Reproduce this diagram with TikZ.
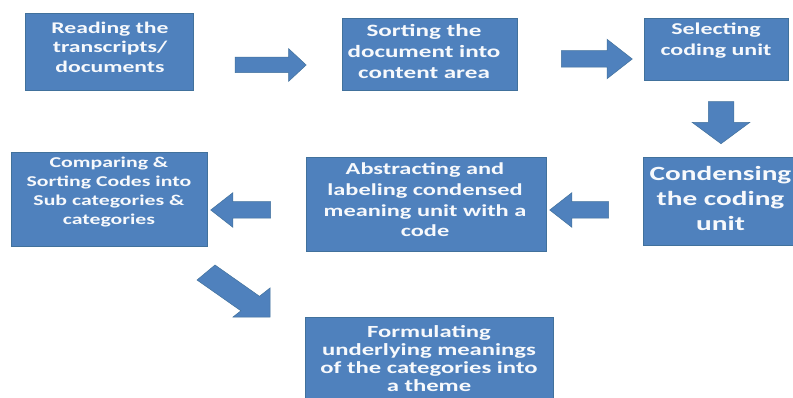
\documentclass[tikz,border=0pt]{standalone}
\usepackage{fontspec}
\usetikzlibrary{shapes.arrows}
\newfontfamily\boxfont[FakeStretch=1.45]{Carlito}
\definecolor{boxblue}{HTML}{4F81BD}
\definecolor{boxedge}{HTML}{41719C}
\definecolor{txtcol}{HTML}{F7F9FC}
\begin{document}
\begin{tikzpicture}[x=1pt,y=-1pt,
  box/.style={draw=boxedge, fill=boxblue, line width=0.5pt, inner sep=0pt},
  txt/.style={text=txtcol, align=center, inner sep=0pt},
  barrow/.style={single arrow, draw=boxedge, fill=boxblue, line width=0.5pt,
     inner xsep=0pt, single arrow head indent=0pt}]
\clip (0,0) rectangle (793,398);
\fill[white] (0,0) rectangle (793,398);
% boxes
\node[box, minimum width=168pt, minimum height=77pt] (b1) at (109,51.5) {};
\node[box, minimum width=175pt, minimum height=72pt] (b2) at (429.5,54) {};
\node[box, minimum width=144pt, minimum height=62pt] (b3) at (716,49) {};
\node[box, minimum width=160pt, minimum height=88pt] (b4) at (723,201) {};
\node[box, minimum width=240pt, minimum height=94pt] (b5) at (426,204) {};
\node[box, minimum width=196pt, minimum height=94pt] (b6) at (109,199) {};
\node[box, minimum width=248pt, minimum height=93pt] (b7) at (429,363.5) {};
% texts
\node[txt, font={\boxfont\bfseries\fontsize{16.3}{19.5}\selectfont}] (t1) at (110,47) {Reading the\\transcripts/\\documents};
\node[txt, font={\boxfont\bfseries\fontsize{17.3}{21}\selectfont}] (t2) at (424,51) {Sorting the\\document into\\content area};
\node[txt, font={\boxfont\bfseries\fontsize{16.5}{21}\selectfont}] (t3) at (716,41) {Selecting\\coding unit};
\node[txt, font={\boxfont\bfseries\fontsize{20.2}{25}\selectfont}] (t4) at (720.5,198) {Condensing\\the coding\\unit};
\node[txt, font={\boxfont\bfseries\fontsize{16.8}{20.7}\selectfont}] (t5) at (425,200) {Abstracting and\\labeling condensed\\meaning unit with a\\code};
\node[txt, font={\boxfont\bfseries\fontsize{15}{19}\selectfont}] (t6) at (109,192) {Comparing \&\\Sorting Codes into\\Sub categories \&\\categories};
\node[txt, font={\boxfont\bfseries\fontsize{17}{18}\selectfont}] (t7) at (429,359) {Formulating\\underlying meanings\\of the categories into\\a theme};
% block arrows
\node[barrow, inner ysep=7.5pt, minimum height=71pt, single arrow head extend=8.5pt, single arrow tip angle=86] (a1) at (266.5,65) {};
\node[barrow, inner ysep=8pt, minimum height=71pt, single arrow head extend=11.5pt, single arrow tip angle=76] (a2) at (591.5,59) {};
\node[barrow, inner ysep=12.5pt, minimum height=42pt, single arrow head extend=16pt, single arrow tip angle=107, rotate=-90] (a3) at (721,118) {};
\node[barrow, inner ysep=8pt, minimum height=59pt, single arrow head extend=9pt, single arrow tip angle=76, shape border rotate=180] (a4) at (584.5,210) {};
\node[barrow, inner ysep=8pt, minimum height=60pt, single arrow head extend=9pt, single arrow tip angle=76, shape border rotate=180] (a5) at (246,210) {};
% diagonal block arrow
\coordinate (d1) at (197,280);
\coordinate (d2) at (240.9,310.8);
\coordinate (d3) at (233,317);
\coordinate (d4) at (270,317);
\coordinate (d5) at (270,288);
\coordinate (d6) at (259.5,296.3);
\coordinate (d7) at (215,265);
\filldraw[draw=boxedge, fill=boxblue, line width=0.5pt] (d1) -- (d2) -- (d3) -- (d4) -- (d5) -- (d6) -- (d7) -- cycle;
\end{tikzpicture}
\end{document}
